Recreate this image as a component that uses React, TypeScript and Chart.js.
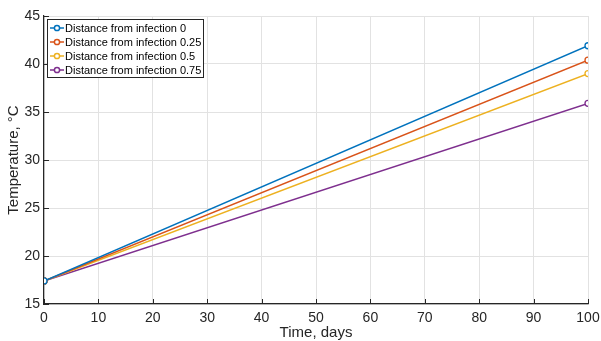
import React, { useEffect, useRef } from "react";
import { Chart, registerables } from "chart.js";

Chart.register(...registerables);

const days = [0, 100];
const seriesNames = [
  "Distance from infection 0",
  "Distance from infection 0.25",
  "Distance from infection 0.5",
  "Distance from infection 0.75",
];
const temp0 = [17.4, 41.9];
const temp025 = [17.4, 40.4];
const temp05 = [17.4, 39.0];
const temp075 = [17.4, 35.9];
const colors = ["#0072BD", "#D95319", "#EDB120", "#7E2F8E"];

const FONT = "'Liberation Sans', Arial, sans-serif";

const tickPlugin = {
  id: "inwardTicks",
  afterDatasetsDraw(chart: any) {
    const ctx = chart.ctx;
    const area = chart.chartArea;
    const xs = chart.scales.x;
    const ys = chart.scales.y;
    ctx.save();
    ctx.strokeStyle = "#262626";
    ctx.lineWidth = 1;
    xs.ticks.forEach((t: any) => {
      const px = Math.round(xs.getPixelForValue(t.value)) + 0.5;
      ctx.beginPath();
      ctx.moveTo(px, area.bottom);
      ctx.lineTo(px, area.bottom - 5);
      ctx.stroke();
    });
    ys.ticks.forEach((t: any) => {
      const py = Math.round(ys.getPixelForValue(t.value)) + 0.5;
      ctx.beginPath();
      ctx.moveTo(area.left, py);
      ctx.lineTo(area.left + 5, py);
      ctx.stroke();
    });
    ctx.restore();
  },
};

const legendPlugin = {
  id: "insideLegend",
  afterDraw(chart: any) {
    const ctx = chart.ctx;
    const area = chart.chartArea;
    const x0 = area.left + 3;
    const y0 = area.top + 3;
    const w = 156;
    const rowH = 14;
    const h = rowH * 4 + 2;
    ctx.save();
    ctx.fillStyle = "#ffffff";
    ctx.fillRect(x0, y0, w, h);
    ctx.strokeStyle = "#262626";
    ctx.lineWidth = 1;
    ctx.strokeRect(x0 + 0.5, y0 + 0.5, w, h);
    ctx.font = `11px ${FONT}`;
    ctx.textBaseline = "middle";
    chart.data.datasets.forEach((ds: any, i: number) => {
      const cy = y0 + 2 + rowH * i + rowH / 2;
      ctx.strokeStyle = ds.borderColor;
      ctx.lineWidth = 1.5;
      ctx.beginPath();
      ctx.moveTo(x0 + 3, cy);
      ctx.lineTo(x0 + 17, cy);
      ctx.stroke();
      ctx.beginPath();
      ctx.arc(x0 + 10, cy, 2.6, 0, Math.PI * 2);
      ctx.fillStyle = "#ffffff";
      ctx.fill();
      ctx.stroke();
      ctx.fillStyle = "#000000";
      ctx.fillText(ds.label, x0 + 18, cy + 0.5);
    });
    ctx.restore();
  },
};

export default function App() {
  const ref = useRef<HTMLCanvasElement>(null);
  useEffect(() => {
    document.body.style.margin = "0";
    const series = [temp0, temp025, temp05, temp075];
    const chart = new Chart(ref.current!, {
      type: "line",
      data: {
        datasets: series.map((vals, i) => ({
          label: seriesNames[i],
          data: days.map((d, j) => ({ x: d, y: vals[j] })),
          borderColor: colors[i],
          backgroundColor: "#ffffff",
          pointBackgroundColor: "#ffffff",
          pointBorderColor: colors[i],
          pointRadius: 3,
          pointBorderWidth: 1.3,
          borderWidth: 1.5,
          tension: 0,
        })),
      },
      options: {
        animation: false,
        responsive: false,
        maintainAspectRatio: false,
        layout: { padding: { top: 16, right: 13, left: 0, bottom: 0 } },
        plugins: { legend: { display: false }, tooltip: { enabled: false } },
        scales: {
          x: {
            type: "linear",
            min: 0,
            max: 100,
            ticks: { stepSize: 10, color: "#262626", font: { family: FONT, size: 14 }, padding: 6, maxRotation: 0 },
            grid: { color: "#e2e2e2", drawTicks: false },
            border: { color: "#262626", width: 1.2 },
            title: { display: true, text: "Time, days", color: "#262626", font: { family: FONT, size: 15 }, padding: { top: 0, bottom: -1 } },
            afterFit(scale: any) { scale.height = 37; scale.paddingRight = 0; scale.paddingLeft = 0; },
          },
          y: {
            type: "linear",
            min: 15,
            max: 45,
            ticks: { stepSize: 5, color: "#262626", font: { family: FONT, size: 14 }, padding: 4 },
            grid: { color: "#e2e2e2", drawTicks: false },
            border: { color: "#262626", width: 1.2 },
            title: { display: true, text: "Temperature, °C", color: "#262626", font: { family: FONT, size: 15 }, padding: { top: 5, bottom: 0 } },
            afterFit(scale: any) { scale.width = 44; scale.paddingTop = 0; scale.paddingBottom = 0; },
          },
        },
      },
      plugins: [tickPlugin, legendPlugin],
    });
    return () => chart.destroy();
  }, []);
  return (
    <div style={{ width: 601, height: 341, background: "#fff" }}>
      <canvas ref={ref} width={601} height={341} style={{ display: "block" }} />
    </div>
  );
}
